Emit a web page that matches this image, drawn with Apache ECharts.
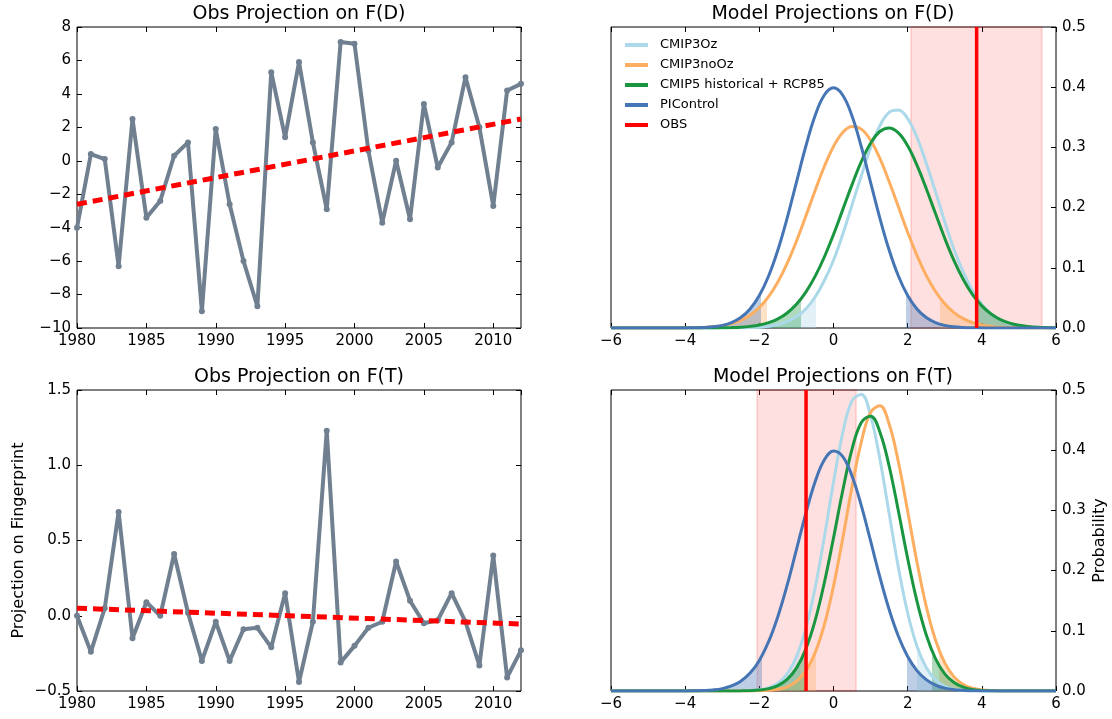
<!DOCTYPE html>
<html><head><meta charset="utf-8">
<script src="https://cdn.jsdelivr.net/npm/echarts@6/dist/echarts.min.js"></script>
<style>html,body{margin:0;padding:0;background:#fff}#c{width:1112px;height:719px}</style>
</head><body><div id="c"></div>
<script>
// ---------- left panels: observed projections ----------
const years = [1980,1981,1982,1983,1984,1985,1986,1987,1988,1989,1990,1991,1992,1993,1994,1995,1996,1997,1998,1999,2000,2001,2002,2003,2004,2005,2006,2007,2008,2009,2010,2011,2012];
const obsProjD = [-4.0,0.4,0.1,-6.3,2.5,-3.4,-2.4,0.3,1.1,-9.0,1.9,-2.6,-6.0,-8.7,5.3,1.4,5.9,1.1,-2.9,7.1,7.0,0.6,-3.7,0.0,-3.5,3.4,-0.4,1.1,5.0,2.0,-2.7,4.2,4.6];
const obsProjT = [0.0,-0.24,0.05,0.69,-0.15,0.09,0.0,0.41,0.02,-0.3,-0.04,-0.3,-0.09,-0.08,-0.21,0.15,-0.44,-0.04,1.23,-0.31,-0.2,-0.08,-0.04,0.36,0.1,-0.05,-0.03,0.15,-0.04,-0.33,0.4,-0.41,-0.23];
const trendYears = [1980, 2012];
const trendD = [-2.6, 2.5];
const trendT = [0.05, -0.055];

// ---------- right panels: model distributions ----------
const pdfX = [-6,-5.75,-5.5,-5.25,-5,-4.75,-4.5,-4.25,-4,-3.75,-3.5,-3.25,-3,-2.75,-2.5,-2.25,-2,-1.75,-1.5,-1.25,-1,-0.75,-0.5,-0.25,0,0.25,0.5,0.75,1,1.25,1.5,1.75,2,2.25,2.5,2.75,3,3.25,3.5,3.75,4,4.25,4.5,4.75,5,5.25,5.5,5.75,6];
// F(D)
const dCMIP3Oz = [0,0,0,0,0,0,0,0,0,0,0,0,0,0.0001,0.0003,0.0006,0.0013,0.0028,0.0056,0.0105,0.0185,0.0315,0.0511,0.0785,0.1125,0.1558,0.2046,0.2527,0.2993,0.3361,0.3581,0.3620,0.3477,0.3168,0.2737,0.2266,0.1765,0.1305,0.0930,0.0619,0.0392,0.0235,0.0137,0.0074,0.0038,0.0018,0.0009,0.0004,0.0002];
const dCMIP3noOz = [0,0,0,0,0,0,0,0.0001,0.0002,0.0005,0.0010,0.0021,0.0039,0.0072,0.0127,0.0212,0.0340,0.0521,0.0764,0.1072,0.1440,0.1851,0.2276,0.2678,0.3016,0.3249,0.3349,0.3304,0.3119,0.2817,0.2434,0.2013,0.1592,0.1206,0.0874,0.0606,0.0402,0.0255,0.0155,0.0090,0.0050,0.0027,0.0013,0.0007,0.0003,0.0001,0.0001,0,0];
const dCMIP5 = [0,0,0,0,0,0,0,0,0,0,0.0001,0.0001,0.0003,0.0007,0.0013,0.0027,0.0050,0.0089,0.0152,0.0250,0.0393,0.0592,0.0853,0.1175,0.1553,0.1966,0.2381,0.2763,0.3069,0.3264,0.3324,0.3241,0.3027,0.2705,0.2317,0.1901,0.1490,0.1120,0.0807,0.0555,0.0367,0.0232,0.0140,0.0081,0.0045,0.0024,0.0012,0.0006,0.0003];
const dPIControl = [0,0,0,0,0,0,0,0,0.0001,0.0004,0.0009,0.0020,0.0044,0.0091,0.0175,0.0317,0.0540,0.0863,0.1295,0.1826,0.2420,0.3011,0.3521,0.3867,0.3989,0.3867,0.3521,0.3011,0.2420,0.1826,0.1295,0.0863,0.0540,0.0317,0.0175,0.0091,0.0044,0.0020,0.0009,0.0004,0.0001,0,0,0,0,0,0,0,0];
// F(T)
const tCMIP3Oz = [0,0,0,0,0,0,0,0,0,0,0,0,0,0.0001,0.0002,0.0007,0.0020,0.0053,0.0129,0.0284,0.0569,0.1029,0.1698,0.2545,0.3466,0.4291,0.4822,0.4925,0.4570,0.3853,0.2951,0.2052,0.1296,0.0745,0.0389,0.0185,0.0079,0.0031,0.0011,0.0004,0.0001,0,0,0,0,0,0,0,0];
const tCMIP3noOz = [0,0,0,0,0,0,0,0,0,0,0,0,0,0,0,0.0001,0.0004,0.0011,0.0029,0.0070,0.0160,0.0330,0.0629,0.1093,0.1742,0.2539,0.3392,0.4138,0.4629,0.4737,0.4435,0.3803,0.2986,0.2143,0.1407,0.0848,0.0467,0.0235,0.0108,0.0045,0.0018,0.0006,0.0002,0.0001,0,0,0,0,0];
const tCMIP5 = [0,0,0,0,0,0,0,0,0,0,0,0,0,0.0001,0.0002,0.0006,0.0015,0.0039,0.0090,0.0193,0.0380,0.0692,0.1160,0.1790,0.2542,0.3330,0.4017,0.4461,0.4565,0.4303,0.3737,0.2989,0.2201,0.1492,0.0935,0.0537,0.0284,0.0140,0.0063,0.0025,0.0010,0.0003,0.0001,0,0,0,0,0,0];
const tPIControl = [0,0,0,0,0,0,0,0,0.0001,0.0003,0.0008,0.0018,0.0040,0.0084,0.0163,0.0297,0.0508,0.0819,0.1238,0.1758,0.2347,0.2943,0.3467,0.3836,0.3988,0.3894,0.3572,0.3079,0.2492,0.1895,0.1354,0.0909,0.0573,0.0339,0.0189,0.0099,0.0048,0.0022,0.0010,0.0004,0.0002,0.0001,0,0,0,0,0,0,0];
// 95% tail limits (shaded outside these)
const dTailCMIP3Oz = [-0.48, 3.84];
const dTailCMIP3noOz = [-1.78, 2.88];
const dTailCMIP5 = [-0.87, 3.83];
const dTailPIControl = [-1.96, 1.96];
const tTailCMIP3Oz = [-0.90, 2.26];
const tTailCMIP3noOz = [-0.46, 2.84];
const tTailCMIP5 = [-0.76, 2.65];
const tTailPIControl = [-1.93, 1.99];
// observations
const obsValueD = 3.86;
const obsBandD = [2.09, 5.62];
const obsValueT = -0.74;
const obsBandT = [-2.06, 0.61];
const obsLineSpan = [0, 0.5];

const modelNames = ['CMIP3Oz', 'CMIP3noOz', 'CMIP5 historical + RCP85', 'PIControl'];
const legendNames = ['CMIP3Oz', 'CMIP3noOz', 'CMIP5 historical + RCP85', 'PIControl', 'OBS'];

// ---------- styling ----------
const FONT = 'DejaVu Sans';
const modelColors = ['#abd9e9', '#fdae61', '#1a9641', '#4575b4'];
const modelRGB = [[171,217,233],[253,174,97],[26,150,65],[69,117,180]];
const grayLine = '#708090';
const red = '#ff0000';
const minus = v => String(v).replace('-', '\u2212');

const G = [
  {left: 77, top: 27, width: 444, height: 301},
  {left: 611, top: 27, width: 445, height: 301},
  {left: 77, top: 390, width: 444, height: 301},
  {left: 611, top: 390, width: 445, height: 301}
].map(g => Object.assign({show: true, borderColor: '#000', borderWidth: 1, backgroundColor: 'transparent'}, g));

const tickStyle = {show: true, inside: true, length: 5, lineStyle: {color: '#000', width: 1}};
const labelBase = {color: '#000', fontSize: 15, fontFamily: FONT};

function xPair(gi, min, max, interval, fmt, hideMax) {
  return [
    {type: 'value', gridIndex: gi, position: 'bottom', min, max, interval,
     axisLine: {show: false, onZero: false}, splitLine: {show: false}, axisTick: tickStyle,
     axisLabel: Object.assign({margin: 6, formatter: fmt, showMaxLabel: !hideMax, showMinLabel: true}, labelBase)},
    {type: 'value', gridIndex: gi, position: 'top', min, max, interval,
     axisLine: {show: false, onZero: false}, splitLine: {show: false}, axisTick: tickStyle,
     axisLabel: {show: false}}
  ];
}
function yAxisDef(gi, pos, min, max, interval, fmt, showLabel, extra) {
  return Object.assign({type: 'value', gridIndex: gi, position: pos, min, max, interval,
    axisLine: {show: false, onZero: false}, splitLine: {show: false}, axisTick: tickStyle,
    axisLabel: showLabel ? Object.assign({margin: 6, formatter: fmt}, labelBase) : {show: false}}, extra || {});
}

const xAxes = [].concat(
  xPair(0, 1980, 2012, 5, v => String(v), true),
  xPair(1, -6, 6, 2, v => minus(v), false),
  xPair(2, 1980, 2012, 5, v => String(v), true),
  xPair(3, -6, 6, 2, v => minus(v), false)
);
// x axis indices: grid g -> bottom 2g, top 2g+1
const nameStyle = {color: '#000', fontSize: 16, fontFamily: FONT};
const yAxes = [
  yAxisDef(0, 'left', -10, 8, 2, v => minus(v), true),
  yAxisDef(0, 'right', -10, 8, 2, null, false),
  yAxisDef(1, 'right', 0, 0.5, 0.1, v => v.toFixed(1), true),
  yAxisDef(2, 'left', -0.5, 1.5, 0.5, v => minus(v.toFixed(1)), true,
    {name: 'Projection on Fingerprint', nameLocation: 'middle', nameGap: 50, nameRotate: 90, nameTextStyle: nameStyle}),
  yAxisDef(2, 'right', -0.5, 1.5, 0.5, null, false),
  yAxisDef(3, 'right', 0, 0.5, 0.1, v => v.toFixed(1), true,
    {name: 'Probability', nameLocation: 'middle', nameGap: 36, nameRotate: 90, nameTextStyle: nameStyle})
];

const series = [];
const visualMaps = [];

function obsPanel(xi, yi, vals, trend) {
  series.push({type: 'line', xAxisIndex: xi, yAxisIndex: yi,
    data: years.map((y, i) => [y, vals[i]]),
    color: grayLine, lineStyle: {width: 4, color: grayLine, join: 'round'},
    symbol: 'circle', symbolSize: 6, showSymbol: true, itemStyle: {color: grayLine},
    z: 2, silent: true});
  series.push({type: 'line', xAxisIndex: xi, yAxisIndex: yi,
    data: trendYears.map((y, i) => [y, trend[i]]),
    lineStyle: {width: 5, color: red, type: [10, 6]}, symbol: 'none', z: 3, silent: true});
}
obsPanel(0, 0, obsProjD, trendD);
obsPanel(4, 3, obsProjT, trendT);

function modelPanel(xi, yi, curves, tails, obsVal, obsBand) {
  // shaded tails (area under curve outside the 95% range)
  curves.forEach((vals, k) => {
    const idx = series.length;
    series.push({type: 'line', xAxisIndex: xi, yAxisIndex: yi,
      data: pdfX.map((x, i) => [x, vals[i]]), smooth: 0.4,
      showSymbol: false, symbol: 'none', lineStyle: {width: 0, opacity: 0},
      areaStyle: {opacity: 1}, z: 1, silent: true});
    const c = modelRGB[k];
    const tc = 'rgba(' + c[0] + ',' + c[1] + ',' + c[2] + ',0.35)';
    visualMaps.push({type: 'piecewise', show: false, seriesIndex: idx, dimension: 0,
      pieces: [{lt: tails[k][0], color: tc}, {gte: tails[k][0], lte: tails[k][1], color: 'rgba(255,255,255,0)'}, {gt: tails[k][1], color: tc}]});
  });
  curves.forEach((vals, k) => {
    series.push({type: 'line', name: modelNames[k], xAxisIndex: xi, yAxisIndex: yi,
      data: pdfX.map((x, i) => [x, vals[i]]), smooth: 0.4,
      showSymbol: false, symbol: 'none', color: modelColors[k],
      lineStyle: {width: 3, color: modelColors[k]}, z: 3, silent: true});
  });
  series.push({type: 'line', name: 'OBS', xAxisIndex: xi, yAxisIndex: yi,
    data: obsLineSpan.map(y => [obsVal, y]), showSymbol: false, symbol: 'none',
    color: red, lineStyle: {width: 3.5, color: red}, z: 4, silent: true,
    markArea: {silent: true, itemStyle: {color: 'rgba(255,0,0,0.12)', borderColor: 'rgba(255,0,0,0.12)', borderWidth: 2},
      data: [[{xAxis: obsBand[0]}, {xAxis: obsBand[1]}]]}});
}
modelPanel(2, 2, [dCMIP3Oz, dCMIP3noOz, dCMIP5, dPIControl],
  [dTailCMIP3Oz, dTailCMIP3noOz, dTailCMIP5, dTailPIControl], obsValueD, obsBandD);
modelPanel(6, 5, [tCMIP3Oz, tCMIP3noOz, tCMIP5, tPIControl],
  [tTailCMIP3Oz, tTailCMIP3noOz, tTailCMIP5, tTailPIControl], obsValueT, obsBandT);

const titleStyle = (text, x, y) => ({type: 'text', x, y, silent: true,
  style: {text, fill: '#000', fontSize: 19, fontFamily: FONT, align: 'center', verticalAlign: 'middle', textAlign: 'center', textVerticalAlign: 'middle'}});

const option = {
  animation: false,
  backgroundColor: '#fff',
  grid: G,
  xAxis: xAxes,
  yAxis: yAxes,
  visualMap: visualMaps,
  legend: {data: legendNames, orient: 'vertical', left: 625, top: 38, padding: 0,
    icon: 'rect', itemWidth: 23, itemHeight: 4, itemGap: 6, selectedMode: false,
    textStyle: {fontSize: 13, fontFamily: FONT, color: '#000', lineHeight: 14, padding: [0, 0, 0, 7]}},
  graphic: [
    titleStyle('Obs Projection on F(D)', 299, 14),
    titleStyle('Model Projections on F(D)', 833, 14),
    titleStyle('Obs Projection on F(T)', 299, 377),
    titleStyle('Model Projections on F(T)', 833, 377)
  ],
  series
};
const chart = echarts.init(document.getElementById('c'), null, {renderer: 'canvas'});
chart.setOption(option);
</script>
</body></html>
